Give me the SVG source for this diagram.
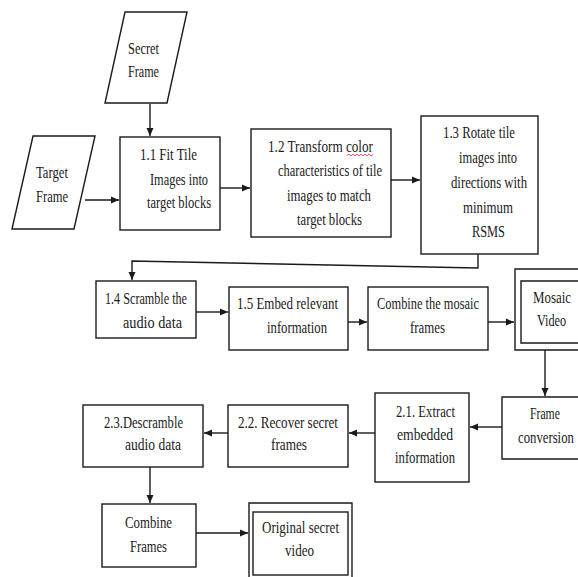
<svg xmlns="http://www.w3.org/2000/svg" width="578" height="577" viewBox="0 0 578 577">
<defs>
<style>
.b{fill:#fff;stroke:#1a1a1a;stroke-width:1.4}
.c{fill:none;stroke:#1a1a1a;stroke-width:1.4}
text{font-family:"Liberation Serif","Times New Roman",serif;font-size:17px;fill:#1a1a1a}
</style>
<marker id="ah" markerWidth="9" markerHeight="8" refX="8" refY="4" orient="auto" markerUnits="userSpaceOnUse">
<path d="M0,0.5 L8,4 L0,7.5 z" fill="#1a1a1a"/>
</marker>
</defs>
<rect width="578" height="577" fill="#fff"/>
<g id="connectors">
<line class="c" x1="150" y1="104" x2="150" y2="136" marker-end="url(#ah)"/>
<line class="c" x1="85" y1="200" x2="119" y2="200" marker-end="url(#ah)"/>
<line class="c" x1="220" y1="188" x2="250" y2="188" marker-end="url(#ah)"/>
<line class="c" x1="391" y1="180" x2="420" y2="180" marker-end="url(#ah)"/>
<polyline class="c" points="478,254 478,268 132,261 132,280" marker-end="url(#ah)"/>
<line class="c" x1="196" y1="312" x2="228" y2="312" marker-end="url(#ah)"/>
<line class="c" x1="348" y1="322" x2="367" y2="322" marker-end="url(#ah)"/>
<line class="c" x1="488" y1="322" x2="514" y2="322" marker-end="url(#ah)"/>
<line class="c" x1="545" y1="350" x2="545" y2="396" marker-end="url(#ah)"/>
<line class="c" x1="502" y1="427" x2="470" y2="427" marker-end="url(#ah)"/>
<line class="c" x1="375" y1="433" x2="349" y2="433" marker-end="url(#ah)"/>
<line class="c" x1="228" y1="433" x2="204" y2="433" marker-end="url(#ah)"/>
<line class="c" x1="150" y1="467" x2="150" y2="503" marker-end="url(#ah)"/>
<line class="c" x1="196" y1="533" x2="248" y2="533" marker-end="url(#ah)"/>
</g>
<g id="secret-frame">
<polygon class="b" points="125,12 187,12 167,103 105,103"/>
<text x="128" y="54" textLength="31" lengthAdjust="spacingAndGlyphs">Secret</text>
<text x="128" y="77" textLength="31" lengthAdjust="spacingAndGlyphs">Frame</text>
</g>
<g id="target-frame">
<polygon class="b" points="33,136 95,136 74,229 12,229"/>
<text x="36" y="178" textLength="32" lengthAdjust="spacingAndGlyphs">Target</text>
<text x="36" y="202" textLength="32" lengthAdjust="spacingAndGlyphs">Frame</text>
</g>
<g id="n11">
<rect class="b" x="120" y="137" width="100" height="93"/>
<text x="140" y="160" textLength="57" lengthAdjust="spacingAndGlyphs">1.1 Fit Tile</text>
<text x="150" y="185" textLength="58" lengthAdjust="spacingAndGlyphs">Images into</text>
<text x="147" y="208" textLength="64" lengthAdjust="spacingAndGlyphs">target blocks</text>
</g>
<g id="n12">
<rect class="b" x="251" y="129" width="140" height="108"/>
<text x="268" y="152" textLength="105" lengthAdjust="spacingAndGlyphs">1.2 Transform color</text>
<polyline points="347,155.5 349,154 351,156 353,154 355,156 357,154 359,156 361,154 363,156 365,154 367,156 369,154 371,156 373,154.5" fill="none" stroke="#e03030" stroke-width="0.8"/>
<text x="278" y="176" textLength="104" lengthAdjust="spacingAndGlyphs">characteristics of tile</text>
<text x="287" y="201" textLength="84" lengthAdjust="spacingAndGlyphs">images to match</text>
<text x="297" y="225" textLength="65" lengthAdjust="spacingAndGlyphs">target blocks</text>
</g>
<g id="n13">
<rect class="b" x="421" y="116" width="117" height="138"/>
<text x="443" y="138" textLength="72" lengthAdjust="spacingAndGlyphs">1.3 Rotate tile</text>
<text x="459" y="163" textLength="58" lengthAdjust="spacingAndGlyphs">images into</text>
<text x="451" y="188" textLength="76" lengthAdjust="spacingAndGlyphs">directions with</text>
<text x="463" y="213" textLength="50" lengthAdjust="spacingAndGlyphs">minimum</text>
<text x="472" y="237" textLength="33" lengthAdjust="spacingAndGlyphs">RSMS</text>
</g>
<g id="n14">
<rect class="b" x="96" y="281" width="100" height="57"/>
<text x="105" y="304" textLength="82" lengthAdjust="spacingAndGlyphs">1.4 Scramble the</text>
<text x="123" y="328" textLength="59" lengthAdjust="spacingAndGlyphs">audio data</text>
</g>
<g id="n15">
<rect class="b" x="229" y="287" width="119" height="63"/>
<text x="237" y="309" textLength="101" lengthAdjust="spacingAndGlyphs">1.5 Embed relevant</text>
<text x="267" y="333" textLength="60" lengthAdjust="spacingAndGlyphs">information</text>
</g>
<g id="combine-mosaic">
<rect class="b" x="368" y="287" width="120" height="63"/>
<text x="377" y="309" textLength="102" lengthAdjust="spacingAndGlyphs">Combine the mosaic</text>
<text x="410" y="333" textLength="35" lengthAdjust="spacingAndGlyphs">frames</text>
</g>
<g id="mosaic-video">
<path class="b" d="M578,269 H515 V350 H578"/>
<path class="b" d="M578,281 H521 V343 H578"/>
<text transform="translate(533,303) scale(0.76,1)">Mosaic</text>
<text transform="translate(537,326) scale(0.72,1)">Video</text>
</g>
<g id="frame-conversion">
<path class="b" d="M578,397 H502 V459 H578"/>
<text transform="translate(530,419) scale(0.69,1)">Frame</text>
<text transform="translate(518,443) scale(0.75,1)">conversion</text>
</g>
<g id="n21">
<rect class="b" x="375" y="393" width="94" height="89"/>
<text x="396" y="417" textLength="59" lengthAdjust="spacingAndGlyphs">2.1. Extract</text>
<text x="397" y="440" textLength="56" lengthAdjust="spacingAndGlyphs">embedded</text>
<text x="395" y="463" textLength="60" lengthAdjust="spacingAndGlyphs">information</text>
</g>
<g id="n22">
<rect class="b" x="228" y="405" width="120" height="62"/>
<text x="238" y="428" textLength="100" lengthAdjust="spacingAndGlyphs">2.2. Recover secret</text>
<text x="271" y="450" textLength="36" lengthAdjust="spacingAndGlyphs">frames</text>
</g>
<g id="n23">
<rect class="b" x="83" y="405" width="120" height="62"/>
<text x="104" y="428" textLength="79" lengthAdjust="spacingAndGlyphs">2.3.Descramble</text>
<text x="125" y="450" textLength="56" lengthAdjust="spacingAndGlyphs">audio data</text>
</g>
<g id="combine-frames">
<rect class="b" x="102" y="504" width="94" height="63"/>
<text x="125" y="528" textLength="47" lengthAdjust="spacingAndGlyphs">Combine</text>
<text x="130" y="552" textLength="37" lengthAdjust="spacingAndGlyphs">Frames</text>
</g>
<g id="original-secret-video">
<path class="b" d="M249,577 V503 H352 V577"/>
<rect class="b" x="253" y="512" width="95" height="63"/>
<text x="262" y="533" textLength="77" lengthAdjust="spacingAndGlyphs">Original secret</text>
<text x="285" y="556" textLength="29" lengthAdjust="spacingAndGlyphs">video</text>
</g>
</svg>
